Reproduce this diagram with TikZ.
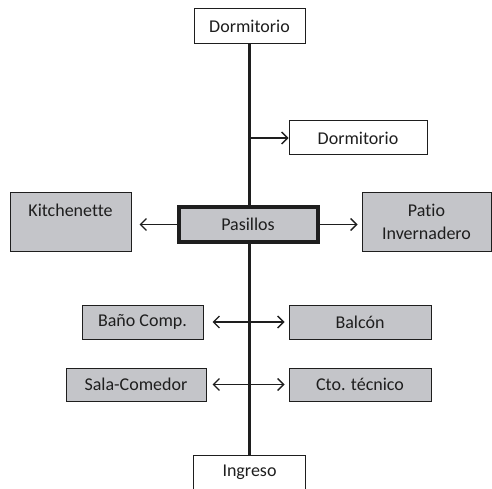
\documentclass[tikz,border=0pt]{standalone}
\usepackage{fontspec}
\setmainfont{Carlito}[Ligatures=NoCommon]
\usetikzlibrary{arrows.meta}
\definecolor{roomgray}{RGB}{196,197,201}
\definecolor{inkline}{RGB}{30,30,30}
\tikzset{
  room/.style={draw=inkline, line width=1pt, fill=roomgray, inner sep=0pt,
    align=center, font=\fontsize{18}{23}\selectfont, text=inkline},
  plainroom/.style={room, fill=white},
  hub/.style={room, line width=4pt},
  spine/.style={draw=inkline, line width=3pt},
  link/.style={draw=inkline, line width=1.3pt},
  barb/.tip={Straight Barb[length=6pt,width=12pt,line width=1.3pt]},
  tip/.style={-barb},
  bitip/.style={barb-barb}
}
\begin{document}
\begin{tikzpicture}[x=1pt,y=-1pt]
  \useasboundingbox (0,0) rectangle (492,489);
  \clip (0,0) rectangle (492,489);
  \fill[white] (0,0) rectangle (492,489);

  % rooms
  \node[plainroom, minimum width=111pt, minimum height=35pt] (dormA) at (249.5,26.5) {Dormitorio};
  \node[plainroom, minimum width=138pt, minimum height=34pt] (dormB) at (358,138) {Dormitorio};
  \node[room, minimum width=121pt, minimum height=59pt] (kitch) at (70.5,221.5) {Kitchenette\\\mbox{}};
  \node[hub, minimum width=139pt, minimum height=35pt] (pas) at (248,224.5) {Pasillos};
  \node[room, minimum width=129pt, minimum height=59pt] (patio) at (426.5,221.5) {Patio\\Invernadero};
  \node[room, minimum width=121pt, minimum height=34pt] (bano) at (142.5,322) {Baño Comp.};
  \node[room, minimum width=142pt, minimum height=34pt] (balcon) at (360,322) {Balcón};
  \node[room, minimum width=140pt, minimum height=33pt] (sala) at (136,384.5) {Sala-Comedor};
  \node[room, minimum width=142pt, minimum height=33pt] (cto) at (360,384.5) {Cto. técnico};
  \node[plainroom, minimum width=112pt, minimum height=35pt] (ingreso) at (249.5,472.5) {Ingreso};

  % central corridor line
  \draw[spine] (dormA.south) -- (pas.north -| dormA.south);
  \draw[spine] (pas.south -| ingreso.north) -- (ingreso.north);
  \coordinate (branch) at (249.5,138);

  % connections
  \draw[link, tip] (branch) -- (branch -| dormB.west);
  \draw[link, tip, shorten >=8pt] (pas.west) -- (pas.west -| kitch.east);
  \draw[link, tip, shorten >=4pt] (pas.east) -- (pas.east -| patio.west);
  \draw[link, bitip, shorten <=9pt, shorten >=4pt] (bano.east) -- (balcon.west);
  \draw[link, bitip, shorten <=6pt, shorten >=4pt] (sala.east |- cto.west) -- (cto.west);
\end{tikzpicture}
\end{document}
